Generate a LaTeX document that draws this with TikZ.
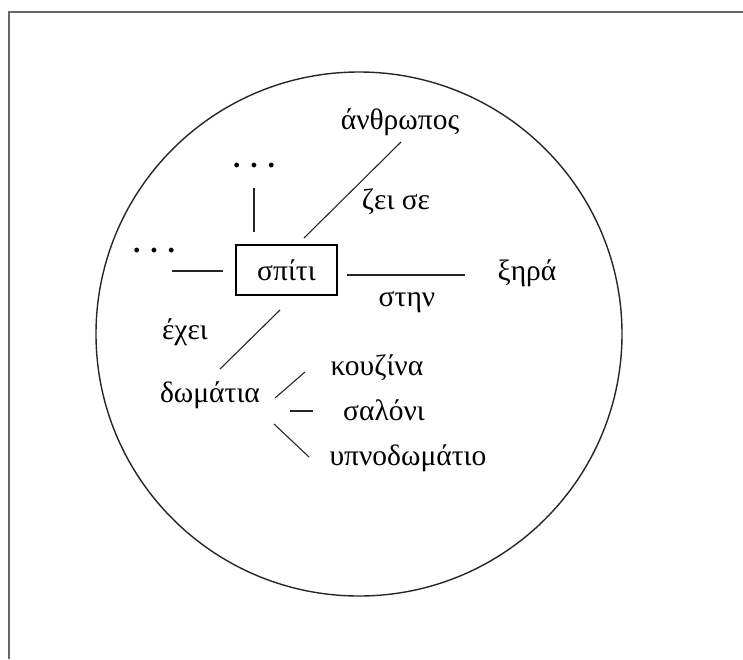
\documentclass[tikz,border=0pt]{standalone}
\usepackage{fontspec}
\setmainfont{Liberation Serif}
\begin{document}
\begin{tikzpicture}[x=1pt,y=-1pt,
  lbl/.style={inner sep=0pt,font=\fontsize{29.5}{34}\selectfont},
  dots/.style={inner sep=0pt,font=\fontsize{29.5}{34}\selectfont\bfseries},
  ln/.style={line width=1.1pt,black!85},
  frameline/.style={line width=1.2pt,gray!80!black}]
\useasboundingbox (0,0) rectangle (743,659);
% frame
\draw[frameline] (743,12) -- (9,12) -- (9,659);
% circle
\draw[line width=1.4pt,black!85] (359,334) ellipse [x radius=263, y radius=262];
% box
\node[draw,line width=1.1pt,minimum width=101pt,minimum height=50pt,inner sep=0pt,font=\fontsize{29.5}{34}\selectfont] (home) at (286.5,270) {σπίτι};
% labels
\node[lbl] (man) at (400,122) {άνθρωπος};
\node[lbl] (lives) at (396,202) {ζει σε};
\node[lbl] (land) at (527,273) {ξηρά};
\node[lbl] (on) at (407,302) {στην};
\node[lbl] (has) at (185,332) {έχει};
\node[lbl] (rooms) at (210,395) {δωμάτια};
\node[lbl] (kitchen) at (377,368) {κουζίνα};
\node[lbl] (living) at (384,410) {σαλόνι};
\node[lbl] (bedroom) at (408,458) {υπνοδωμάτιο};
\node[dots,anchor=base] (dotsT) at (254,167) {.\,\,.\,\,.};
\node[dots,anchor=base] (dotsL) at (154,252) {.\,\,.\,\,.};
% connector ends
\coordinate (a1) at (254,188); \coordinate (a2) at (254,232);
\coordinate (b1) at (172,271); \coordinate (b2) at (223,271);
\coordinate (c1) at (304,238); \coordinate (c2) at (401,142);
\coordinate (d1) at (347,275); \coordinate (d2) at (465,275);
\coordinate (e1) at (280,310); \coordinate (e2) at (220,369);
\coordinate (f1) at (275,398); \coordinate (f2) at (305,372);
\coordinate (g1) at (290,411); \coordinate (g2) at (313,411);
\coordinate (h1) at (274,424); \coordinate (h2) at (309,457);
\draw[ln] (a1) -- (a2);
\draw[ln] (b1) -- (b2);
\draw[ln] (c1) -- (c2);
\draw[ln] (d1) -- (d2);
\draw[ln] (e1) -- (e2);
\draw[ln] (f1) -- (f2);
\draw[ln] (g1) -- (g2);
\draw[ln] (h1) -- (h2);
\end{tikzpicture}
\end{document}
